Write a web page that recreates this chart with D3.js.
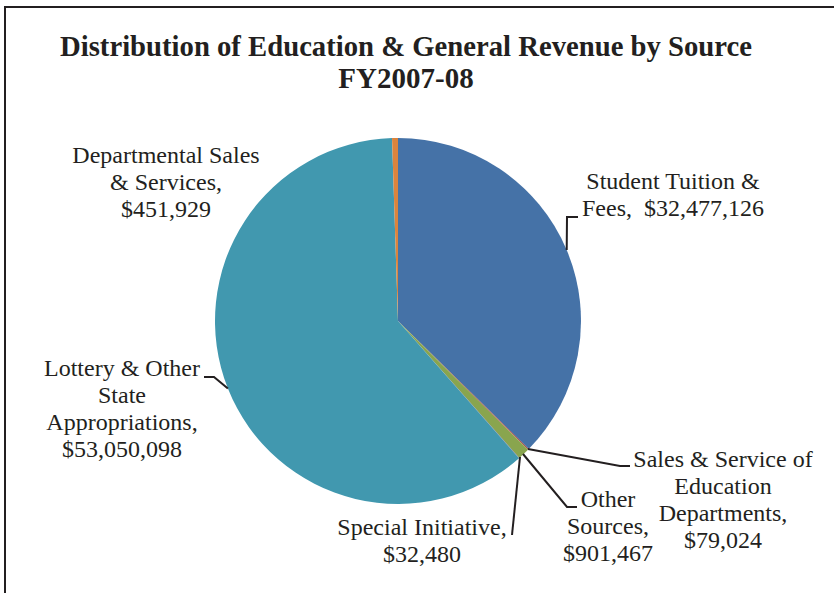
<!DOCTYPE html>
<html>
<head>
<meta charset="utf-8">
<script src="https://cdn.jsdelivr.net/npm/d3@7"></script>
<style>
  body { margin: 0; background: #fff; }
  svg text { font-family: "Liberation Serif", "Times New Roman", serif; fill: #231f20; }
  .title { font-weight: bold; font-size: 29px; }
  .label { font-size: 24px; }
</style>
</head>
<body>
<div class="chart"></div>
<script>
var width = 834
var height = 593

var categories = [
  "Student Tuition & Fees",
  "Sales & Service of Education Departments",
  "Other Sources",
  "Special Initiative",
  "Lottery & Other State Appropriations",
  "Departmental Sales & Services"
];
var values = [32477126, 79024, 901467, 32480, 53050098, 451929];
var colors = ["#4572a7", "#aa4643", "#89a54e", "#71588f", "#4198af", "#db843d"];

// label text, broken the way the picture breaks it
var labelLines = [
  ["Student Tuition &", "Fees,  $32,477,126"],
  ["Sales & Service of", "Education", "Departments,", "$79,024"],
  ["Other", "Sources,", "$901,467"],
  ["Special Initiative,", "$32,480"],
  ["Lottery & Other", "State", "Appropriations,", "$53,050,098"],
  ["Departmental Sales", "& Services,", "$451,929"]
];

// where each label sits and how its leader line bends
var labelPos = [
  {x: 673, y: 189, elbow: [[567, 217], [578, 217]], start: "mid"},
  {x: 723, y: 467, elbow: [[620, 466], [630, 466]], start: [528, 449]},
  {x: 608, y: 507, elbow: [[567, 507], [577, 507]], start: [523, 454]},
  {x: 422, y: 535, elbow: [[512, 535]], start: [520, 457]},
  {x: 122, y: 376, elbow: [[214, 377], [204, 377]], start: "mid"},
  {x: 166, y: 163, elbow: null, start: "mid"}
];

var cx = 398, cy = 321, radius = 183;
var lineHeight = 27;

var svg = d3.select(".chart").append("svg")
            .attr("width", width)
            .attr("height", height);

// frame
svg.append("rect")
   .attr("x", 5)
   .attr("y", 7)
   .attr("width", 900)
   .attr("height", 700)
   .attr("fill", "none")
   .attr("stroke", "#231f20")
   .attr("stroke-width", 2);

svg.append("text")
   .attr("class", "title")
   .attr("x", 406)
   .attr("y", 56)
   .attr("text-anchor", "middle")
   .attr("textLength", 692)
   .attr("lengthAdjust", "spacingAndGlyphs")
   .text("Distribution of Education & General Revenue by Source");

svg.append("text")
   .attr("class", "title")
   .attr("x", 406)
   .attr("y", 88)
   .attr("text-anchor", "middle")
   .text("FY2007-08");

var pie = d3.pie().sort(null)
var arcs = pie(values);

var arc = d3.arc().innerRadius(0).outerRadius(radius);
var edge = d3.arc().innerRadius(radius).outerRadius(radius);

var g = svg.append("g").attr("transform", "translate(" + cx + "," + cy + ")");

g.selectAll("path")
 .data(arcs)
 .enter()
 .append("path")
 .attr("d", arc)
 .attr("fill", function(d, i) { return colors[i]; });

// leader lines
arcs.forEach(function(d, i) {
  var p = labelPos[i];
  if (!p.elbow) return;
  var s;
  if (p.start === "mid") {
    var c = edge.centroid(d);
    s = [cx + c[0], cy + c[1]];
  } else {
    s = p.start;
  }
  var pts = [s].concat(p.elbow);
  svg.append("path")
     .attr("d", d3.line()(pts))
     .attr("fill", "none")
     .attr("stroke", "#231f20")
     .attr("stroke-width", 2);
});

// labels
labelLines.forEach(function(lines, i) {
  var t = svg.append("text")
             .attr("class", "label")
             .attr("text-anchor", "middle");
  lines.forEach(function(l, j) {
    t.append("tspan")
     .attr("x", labelPos[i].x)
     .attr("y", labelPos[i].y + j * lineHeight)
     .style("white-space", "pre")
     .text(l);
  });
});
</script>
</body>
</html>
